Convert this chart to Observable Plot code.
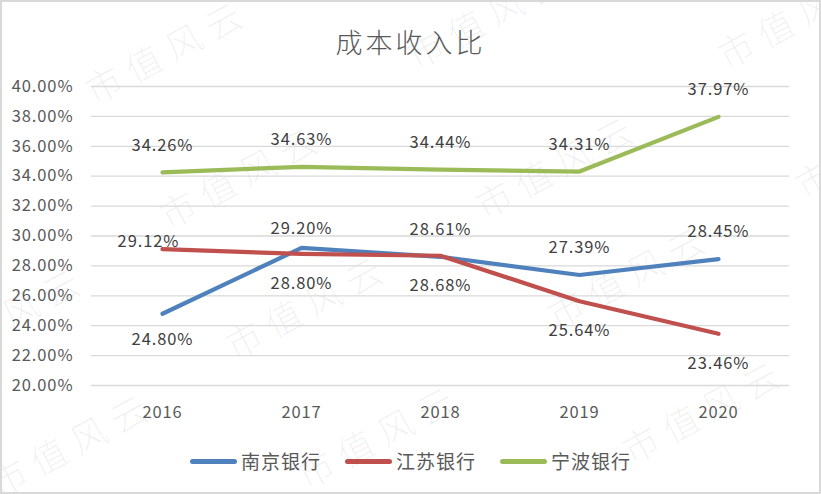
<!DOCTYPE html>
<html>
<head>
<meta charset="utf-8">
<script src="https://cdn.jsdelivr.net/npm/d3@7"></script>
<script src="https://cdn.jsdelivr.net/npm/@observablehq/plot@0.6"></script>
<style>
  html, body { margin: 0; padding: 0; background: #fff; }
  #chart { position: relative; width: 821px; height: 494px; overflow: hidden;
    font-family: "Noto Sans CJK SC", "Noto Sans", sans-serif; background: #fff; }
  #frame { position: absolute; left: 0; top: 0; width: 821px; height: 494px; box-sizing: border-box;
    border: 2px solid #d9d9d9; pointer-events: none; z-index: 5; }
  #wm { position: absolute; left: 0; top: 0; width: 821px; height: 494px; z-index: 0; overflow: hidden; }
  #wm span { position: absolute; font-size: 36px; line-height: 36px; font-weight: 300; letter-spacing: 9px;
    color: rgba(0,0,0,0.06); white-space: nowrap; transform-origin: 0 50%; transform: rotate(-28deg); }
  #title { position: absolute; top: 27px; left: 0; width: 821px; text-align: center; font-size: 27px;
    line-height: 30px; letter-spacing: 3px; font-weight: 300; color: #595959; z-index: 2; }
  #plot { position: absolute; top: 70px; left: 0; z-index: 1; }
  #plot svg text { letter-spacing: 0.9px; }
  #legend { position: absolute; top: 448px; left: 0px; width: 821px; display: flex; justify-content: center;
    align-items: center; z-index: 2; font-size: 19px; line-height: 26px; letter-spacing: 1px; color: #595959; }
  .item { display: flex; align-items: center; margin: 0 12px; }
  .sw { display: inline-block; width: 47px; height: 5px; border-radius: 3px; margin-right: 4px; }
</style>
</head>
<body>
<div id="chart">
  <div id="wm"></div>
  <div id="title"></div>
  <div id="plot"></div>
  <div id="legend"></div>
  <div id="frame"></div>
</div>
<script>
// ---- data ----
const chartTitle = "成本收入比";
const years = ["2016", "2017", "2018", "2019", "2020"];
const seriesNames = ["南京银行", "江苏银行", "宁波银行"];
const nanjing = [24.80, 29.20, 28.61, 27.39, 28.45];
const jiangsu = [29.12, 28.80, 28.68, 25.64, 23.46];
const ningbo  = [34.26, 34.63, 34.44, 34.31, 37.97];
const yTicks = [20, 22, 24, 26, 28, 30, 32, 34, 36, 38, 40];
const watermarkText = "市值风云";

// ---- styling / label placement ----
const seriesColors = ["#4F81BD", "#C0504D", "#9BBB59"];
const labelPlacement = {
  "南京银行": ["belowNear", "aboveNear", "above", "above", "above"],
  "江苏银行": ["left", "below", "below", "below", "below"],
  "宁波银行": ["above", "above", "above", "above", "above"]
};
const placementOffsets = {
  above: {dx: 0, dy: -27},
  aboveNear: {dx: 0, dy: -19},
  below: {dx: 0, dy: 30},
  belowNear: {dx: 0, dy: 26},
  left: {dx: -14, dy: -7}
};
const watermarkSpots = [[-60,352],[8,478],[103,85],[177,210],[243,340],[315,470],[425,50],[493,200],[565,310],[640,445],[735,50],[813,180]];

const seriesValues = [nanjing, jiangsu, ningbo];
const rows = [];
seriesNames.forEach((name, si) => {
  years.forEach((yr, i) => {
    rows.push({series: name, year: yr, value: seriesValues[si][i], place: labelPlacement[name][i]});
  });
});

const fmt = d => d.toFixed(2) + "%";
const font = '"Noto Sans CJK SC", "Noto Sans", sans-serif';

const labelMarks = Object.entries(placementOffsets).map(([key, off]) =>
  Plot.text(rows.filter(d => d.place === key), {
    x: "year", y: "value", text: d => fmt(d.value),
    dx: off.dx, dy: off.dy, fill: "#404040", fontSize: 16.5, textAnchor: "middle"
  })
);

const plot = Plot.plot({
  width: 821,
  height: 360,
  marginLeft: 91,
  marginRight: 32,
  marginTop: 16,
  marginBottom: 45,
  style: {fontFamily: font, fontSize: "16.5px", color: "#595959", background: "transparent", overflow: "visible"},
  x: {type: "point", domain: years, padding: 0.5, label: null},
  y: {domain: [20, 40], label: null},
  color: {domain: seriesNames, range: seriesColors},
  marks: [
    Plot.gridY(yTicks, {stroke: "#d9d9d9", strokeOpacity: 1, strokeWidth: 1.3}),
    Plot.axisY(yTicks, {tickSize: 0, tickPadding: 18, tickFormat: fmt, label: null, fill: "#595959", fontSize: 16.5}),
    Plot.axisX({tickSize: 0, tickPadding: 21, label: null, fill: "#595959", fontSize: 16.5}),
    Plot.line(rows, {x: "year", y: "value", z: "series", stroke: "series", strokeWidth: 4.2,
      strokeLinecap: "round", strokeLinejoin: "round"}),
    ...labelMarks
  ]
});
document.getElementById("plot").appendChild(plot);

document.getElementById("title").textContent = chartTitle;

const legend = document.getElementById("legend");
seriesNames.forEach((name, i) => {
  const item = document.createElement("div");
  item.className = "item";
  const sw = document.createElement("span");
  sw.className = "sw";
  sw.style.background = seriesColors[i];
  const tx = document.createElement("span");
  tx.textContent = name;
  item.appendChild(sw);
  item.appendChild(tx);
  legend.appendChild(item);
});

const wm = document.getElementById("wm");
watermarkSpots.forEach(([x, y]) => {
  const s = document.createElement("span");
  s.textContent = watermarkText;
  s.style.left = (x - 16) + "px";
  s.style.top = (y - 18 + 6) + "px";
  wm.appendChild(s);
});
</script>
</body>
</html>
